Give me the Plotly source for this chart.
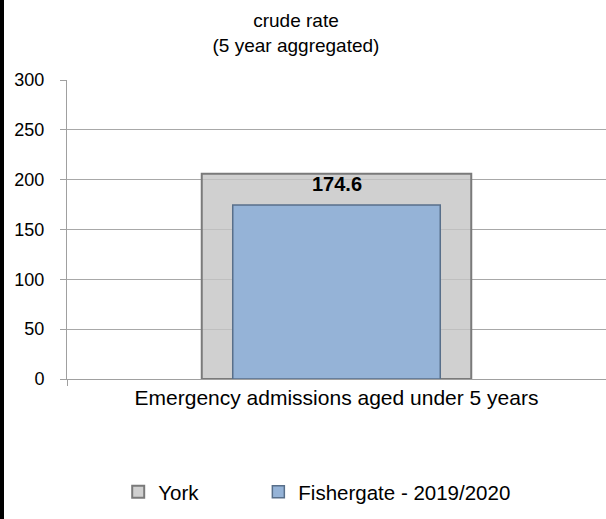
import plotly.graph_objects as go

categories = ["Emergency admissions aged under 5 years"]
york_values = [206]
fishergate_values = [174.6]
series_names = ["York", "Fishergate - 2019/2020"]
y_ticks = [0, 50, 100, 150, 200, 250, 300]

FONT = "Liberation Sans, Arial, sans-serif"

fig = go.Figure()
fig.add_trace(go.Bar(
    x=categories, y=york_values, name=series_names[0], width=0.5, legend="legend",
    showlegend=True,
    marker=dict(color="rgba(196,196,196,0.8)", line=dict(color="#7a7a7a", width=2)),
))
fig.add_trace(go.Bar(
    x=categories, y=fishergate_values, name=series_names[1], width=0.385, legend="legend2",
    showlegend=True,
    marker=dict(color="#95b3d7", line=dict(color="#586f8a", width=1.5)),
))

fig.add_annotation(
    x=categories[0], y=fishergate_values[0], text="<b>%.1f</b>" % fishergate_values[0],
    showarrow=False, yanchor="bottom", yshift=8,
    font=dict(family=FONT, size=20, color="#000000"),
)

# black strip along the left edge
fig.add_shape(type="rect", xref="paper", yref="paper",
              x0=-68/539, x1=-63/539, y0=-141/299, y1=1 + 81/299,
              fillcolor="#000000", line=dict(width=0), layer="above")

legend_common = dict(orientation="h", xanchor="left", y=-0.378, yanchor="middle",
                     font=dict(family=FONT, size=20.5), bgcolor="rgba(0,0,0,0)")

fig.update_layout(
    width=606, height=519,
    margin=dict(l=67, r=0, t=80, b=140),
    paper_bgcolor="white", plot_bgcolor="white",
    barmode="overlay",
    showlegend=True,
    font=dict(family=FONT, size=18, color="#000000"),
    title=dict(text="crude rate<br>(5 year aggregated)", x=296/606, xanchor="center",
               xref="container", y=0.948, yanchor="top", yref="container",
               font=dict(family=FONT, size=19, color="#000000")),
    xaxis=dict(range=[-0.5, 0.5], showline=True, linecolor="#a0a0a0", linewidth=1,
               ticks="outside", tickson="boundaries", ticklen=6, tickcolor="#a0a0a0",
               tickfont=dict(family=FONT, size=21), showgrid=False),
    yaxis=dict(range=[0, 300], tickvals=y_ticks, showline=True, linecolor="#a0a0a0",
               linewidth=1, ticks="outside", ticklen=6, tickcolor="#a0a0a0",
               gridcolor="#a8a8a8", gridwidth=1, zeroline=False,
               tickfont=dict(family=FONT, size=18), ticklabelstandoff=12),
    legend=dict(x=0.095, **legend_common),
    legend2=dict(x=0.355, **legend_common),
)

post = (
    "document.body.style.margin='0';"
    "var s=document.createElement('div');"
    "s.style.cssText='position:fixed;left:0;top:0;width:4px;height:100%;background:#000;z-index:1000;pointer-events:none';"
    "document.body.appendChild(s);"
)

fig.write_html("out.html", config={"displayModeBar": False}, post_script=post)
